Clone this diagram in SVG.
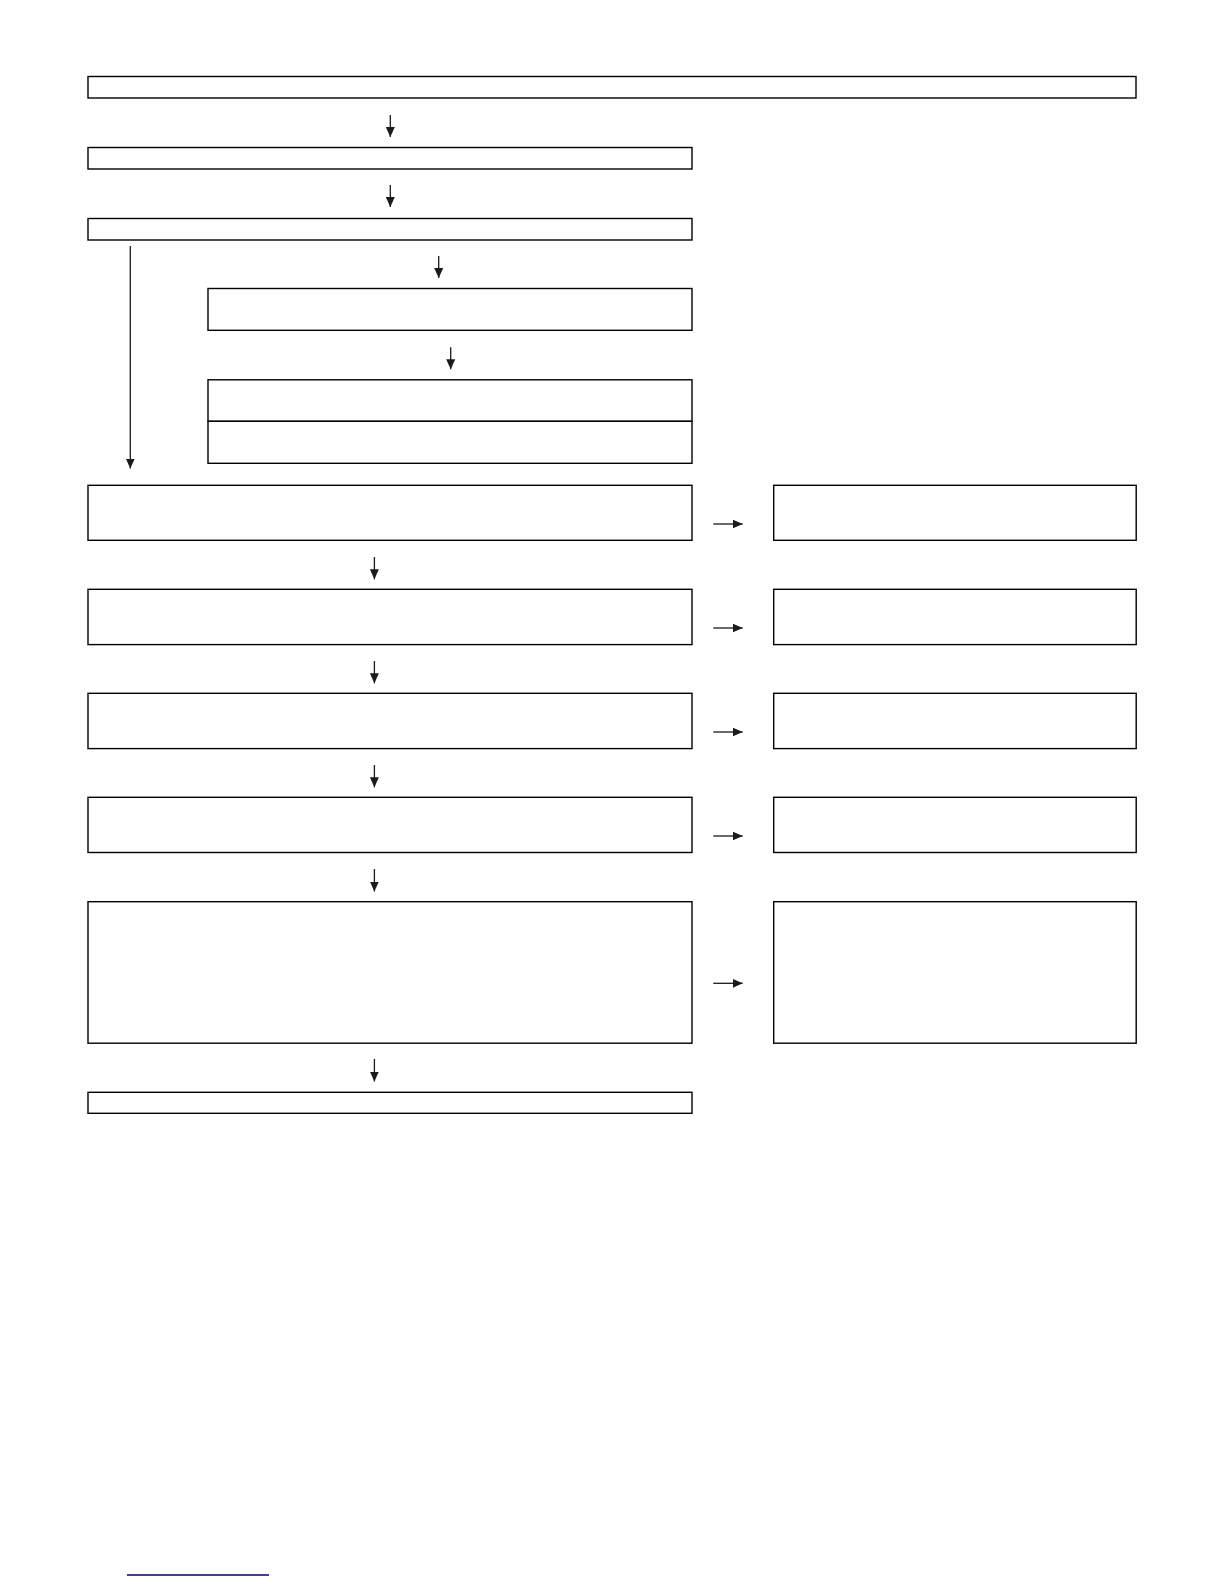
<svg xmlns="http://www.w3.org/2000/svg" width="1224" height="1584" viewBox="0 0 1224 1584">
<defs>
<style>
.box{fill:#fff;stroke:#000;stroke-width:1.4}
.con{stroke:#1a1a1a;stroke-width:1.3;fill:none}
</style>
<marker id="ah" markerUnits="userSpaceOnUse" markerWidth="11" markerHeight="11" viewBox="0 0 11 11" refX="10" refY="5.5" orient="auto">
<path d="M0,1 L10,5.5 L0,10 Z" fill="#1a1a1a"/>
</marker>
</defs>
<rect width="1224" height="1584" fill="#fff"/>
<g id="n1"><rect class="box" x="88" y="76.5" width="1048" height="21.5"/></g>
<g id="n2"><rect class="box" x="88" y="147.5" width="604" height="21.5"/></g>
<g id="n3"><rect class="box" x="88" y="218.5" width="604" height="21.5"/></g>
<g id="n4"><rect class="box" x="208" y="288.5" width="484" height="41.8"/></g>
<g id="n5"><rect class="box" x="208" y="379.8" width="484" height="41.5"/></g>
<g id="n6"><rect class="box" x="208" y="421.3" width="484" height="42"/></g>
<g id="n7"><rect class="box" x="88" y="485.3" width="604" height="55"/></g>
<g id="n8"><rect class="box" x="773.7" y="485.3" width="362.5" height="55"/></g>
<g id="n9"><rect class="box" x="88" y="589.3" width="604" height="55.3"/></g>
<g id="n10"><rect class="box" x="773.7" y="589.3" width="362.5" height="55.3"/></g>
<g id="n11"><rect class="box" x="88" y="693.3" width="604" height="55.3"/></g>
<g id="n12"><rect class="box" x="773.7" y="693.3" width="362.5" height="55.3"/></g>
<g id="n13"><rect class="box" x="88" y="797.3" width="604" height="55.2"/></g>
<g id="n14"><rect class="box" x="773.7" y="797.3" width="362.5" height="55.2"/></g>
<g id="n15"><rect class="box" x="88" y="901.7" width="604" height="141.5"/></g>
<g id="n16"><rect class="box" x="773.7" y="901.7" width="362.5" height="141.5"/></g>
<g id="n17"><rect class="box" x="88" y="1092.3" width="604" height="21"/></g>
<g id="connectors">
<line class="con" x1="390.3" y1="115" x2="390.3" y2="137" marker-end="url(#ah)"/>
<line class="con" x1="390.3" y1="185" x2="390.3" y2="207" marker-end="url(#ah)"/>
<line class="con" x1="130.3" y1="246" x2="130.3" y2="468.5" marker-end="url(#ah)"/>
<line class="con" x1="438.7" y1="256" x2="438.7" y2="278" marker-end="url(#ah)"/>
<line class="con" x1="450.7" y1="347.3" x2="450.7" y2="369.3" marker-end="url(#ah)"/>
<line class="con" x1="713.3" y1="524" x2="742.7" y2="524" marker-end="url(#ah)"/>
<line class="con" x1="374.4" y1="557" x2="374.4" y2="579.3" marker-end="url(#ah)"/>
<line class="con" x1="713.3" y1="628" x2="742.7" y2="628" marker-end="url(#ah)"/>
<line class="con" x1="374.4" y1="661" x2="374.4" y2="683.3" marker-end="url(#ah)"/>
<line class="con" x1="713.3" y1="732" x2="742.7" y2="732" marker-end="url(#ah)"/>
<line class="con" x1="374.4" y1="765" x2="374.4" y2="787.3" marker-end="url(#ah)"/>
<line class="con" x1="713.3" y1="836" x2="742.7" y2="836" marker-end="url(#ah)"/>
<line class="con" x1="374.4" y1="869" x2="374.4" y2="891.5" marker-end="url(#ah)"/>
<line class="con" x1="713.3" y1="983.3" x2="742.7" y2="983.3" marker-end="url(#ah)"/>
<line class="con" x1="374.4" y1="1059" x2="374.4" y2="1081.5" marker-end="url(#ah)"/>
</g>
<line x1="127" y1="1575" x2="269" y2="1575" stroke="#00007a" stroke-width="1.3"/>
</svg>
